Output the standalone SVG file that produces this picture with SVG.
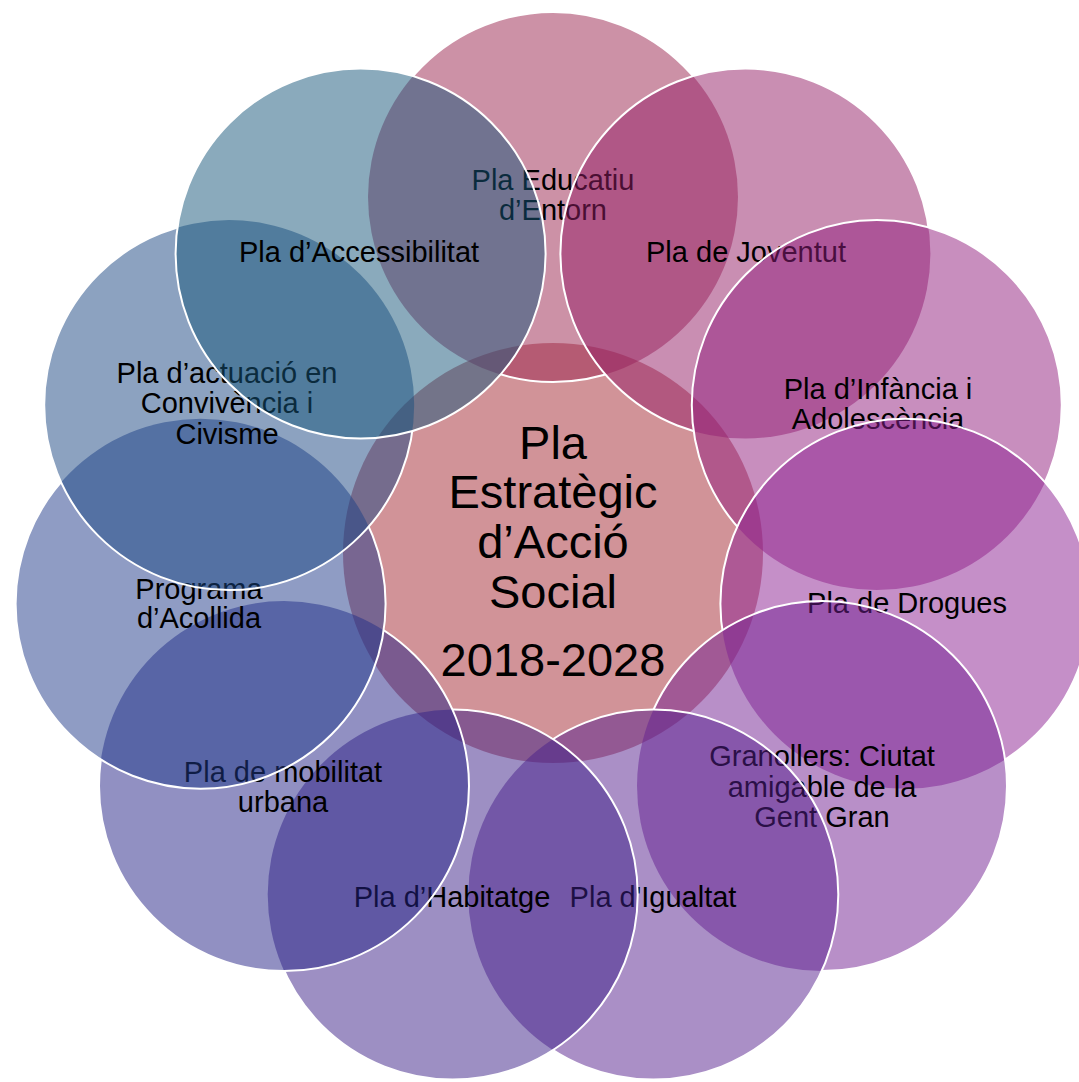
<svg xmlns="http://www.w3.org/2000/svg" width="1079" height="1082" viewBox="0 0 1079 1082">
<style>
.f{fill-opacity:0.5}
.ring{fill:none;stroke:#fff;stroke-width:2}
.t{font-family:"Liberation Sans",Arial,sans-serif;font-size:29px;text-anchor:middle;fill:#000}
.c{font-size:47px}
</style>
<defs>
<mask id="m0" maskUnits="userSpaceOnUse" x="0" y="0" width="1079" height="1082"><rect width="1079" height="1082" fill="#fff"/><circle cx="745.4" cy="253.5" r="185" fill="#000"/><circle cx="360.6" cy="253.5" r="185" fill="#000"/></mask>
<mask id="m1" maskUnits="userSpaceOnUse" x="0" y="0" width="1079" height="1082"><rect width="1079" height="1082" fill="#fff"/><circle cx="876.8" cy="405.1" r="185" fill="#000"/></mask>
<mask id="m2" maskUnits="userSpaceOnUse" x="0" y="0" width="1079" height="1082"><rect width="1079" height="1082" fill="#fff"/><circle cx="905.4" cy="603.7" r="185" fill="#000"/></mask>
<mask id="m3" maskUnits="userSpaceOnUse" x="0" y="0" width="1079" height="1082"><rect width="1079" height="1082" fill="#fff"/><circle cx="822" cy="786.1" r="185" fill="#000"/></mask>
<mask id="m4" maskUnits="userSpaceOnUse" x="0" y="0" width="1079" height="1082"><rect width="1079" height="1082" fill="#fff"/><circle cx="653.3" cy="894.6" r="185" fill="#000"/></mask>
<mask id="m5" maskUnits="userSpaceOnUse" x="0" y="0" width="1079" height="1082"><rect width="1079" height="1082" fill="#fff"/><circle cx="452.7" cy="894.6" r="185" fill="#000"/></mask>
<mask id="m6" maskUnits="userSpaceOnUse" x="0" y="0" width="1079" height="1082"><rect width="1079" height="1082" fill="#fff"/><circle cx="284" cy="786.1" r="185" fill="#000"/></mask>
<mask id="m7" maskUnits="userSpaceOnUse" x="0" y="0" width="1079" height="1082"><rect width="1079" height="1082" fill="#fff"/><circle cx="200.6" cy="603.7" r="185" fill="#000"/></mask>
<mask id="m8" maskUnits="userSpaceOnUse" x="0" y="0" width="1079" height="1082"><rect width="1079" height="1082" fill="#fff"/><circle cx="229.2" cy="405.1" r="185" fill="#000"/></mask>
<mask id="m9" maskUnits="userSpaceOnUse" x="0" y="0" width="1079" height="1082"><rect width="1079" height="1082" fill="#fff"/><circle cx="360.6" cy="253.5" r="185" fill="#000"/></mask>
</defs>
<rect width="1079" height="1082" fill="#fff"/>

<g id="center">
<circle class="f" cx="553" cy="553" r="210" fill="#A32731"/>
<text class="t c"><tspan x="553" y="459">Pla</tspan><tspan x="553" y="508">Estratègic</tspan><tspan x="553" y="558">d’Acció</tspan><tspan x="553" y="608">Social</tspan><tspan x="553" y="676">2018-2028</tspan></text>
</g>

<g id="educatiu">
<circle class="f" cx="553" cy="197" r="185" fill="#99234D"/>
<circle class="ring" cx="553" cy="197" r="185" mask="url(#m0)"/>
<text class="t"><tspan x="553" y="190">Pla Educatiu</tspan><tspan x="553" y="220">d’Entorn</tspan></text>
</g>

<g id="joventut">
<circle class="f" cx="745.4" cy="253.5" r="185" fill="#931D65"/>
<circle class="ring" cx="745.4" cy="253.5" r="185" mask="url(#m1)"/>
<text class="t" x="746" y="262">Pla de Joventut</text>
</g>

<g id="infancia">
<circle class="f" cx="876.8" cy="405.1" r="185" fill="#911D7D"/>
<circle class="ring" cx="876.8" cy="405.1" r="185" mask="url(#m2)"/>
<text class="t"><tspan x="878" y="399">Pla d’Infància i</tspan><tspan x="878" y="429">Adolescència</tspan></text>
</g>

<g id="drogues">
<circle class="f" cx="905.4" cy="603.7" r="185" fill="#8B1F91"/>
<circle class="ring" cx="905.4" cy="603.7" r="185" mask="url(#m3)"/>
<text class="t" x="907" y="613">Pla de Drogues</text>
</g>

<g id="gentgran">
<circle class="f" cx="822" cy="786.1" r="185" fill="#711F91"/>
<circle class="ring" cx="822" cy="786.1" r="185" mask="url(#m4)"/>
<text class="t"><tspan x="822" y="766">Granollers: Ciutat</tspan><tspan x="822" y="797">amigable de la</tspan><tspan x="822" y="827">Gent Gran</tspan></text>
</g>

<g id="igualtat">
<circle class="f" cx="653.3" cy="894.6" r="185" fill="#551F8D"/>
<circle class="ring" cx="653.3" cy="894.6" r="185" mask="url(#m5)"/>
<text class="t" x="653" y="907">Pla d'Igualtat</text>
</g>

<g id="habitatge">
<circle class="f" cx="452.7" cy="894.6" r="185" fill="#3B1F87"/>
<circle class="ring" cx="452.7" cy="894.6" r="185" mask="url(#m6)"/>
<text class="t" x="452" y="907">Pla d’Habitatge</text>
</g>

<g id="mobilitat">
<circle class="f" cx="284" cy="786.1" r="185" fill="#232185"/>
<circle class="ring" cx="284" cy="786.1" r="185" mask="url(#m7)"/>
<text class="t"><tspan x="283" y="782">Pla de mobilitat</tspan><tspan x="283" y="812">urbana</tspan></text>
</g>

<g id="acollida">
<circle class="f" cx="200.6" cy="603.7" r="185" fill="#1F3989"/>
<circle class="ring" cx="200.6" cy="603.7" r="185" mask="url(#m8)"/>
<text class="t"><tspan x="199" y="599">Programa</tspan><tspan x="199" y="628">d’Acollida</tspan></text>
</g>

<g id="convivencia">
<circle class="f" cx="229.2" cy="405.1" r="185" fill="#194581"/>
<circle class="ring" cx="229.2" cy="405.1" r="185" mask="url(#m9)"/>
<text class="t"><tspan x="227" y="383">Pla d’actuació en</tspan><tspan x="227" y="413">Convivència i</tspan><tspan x="227" y="444">Civisme</tspan></text>
</g>

<g id="accessibilitat">
<circle class="f" cx="360.6" cy="253.5" r="185" fill="#155579"/>
<circle class="ring" cx="360.6" cy="253.5" r="185"/>
<text class="t" x="359" y="262">Pla d’Accessibilitat</text>
</g>
</svg>
